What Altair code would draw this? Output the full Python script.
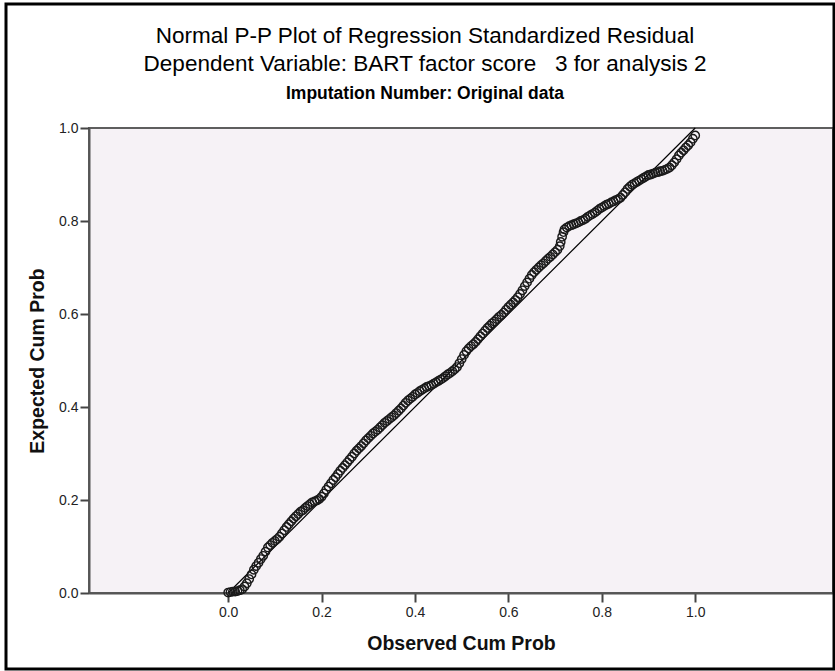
import altair as alt
import pandas as pd

# Observed cumulative probability (x) and expected cumulative probability (y)
observed = [
    0.000, 0.005, 0.010, 0.015, 0.020, 0.025, 0.030, 0.035, 0.040, 0.045,
    0.050, 0.055, 0.060, 0.065, 0.070, 0.075, 0.080, 0.085, 0.090, 0.095,
    0.100, 0.105, 0.110, 0.115, 0.120, 0.125, 0.130, 0.135, 0.140, 0.145,
    0.150, 0.155, 0.160, 0.165, 0.170, 0.175, 0.180, 0.185, 0.190, 0.195,
    0.200, 0.205, 0.210, 0.215, 0.220, 0.225, 0.230, 0.235, 0.240, 0.245,
    0.250, 0.255, 0.260, 0.265, 0.270, 0.275, 0.280, 0.285, 0.290, 0.295,
    0.300, 0.305, 0.310, 0.315, 0.320, 0.325, 0.330, 0.335, 0.340, 0.345,
    0.350, 0.355, 0.360, 0.365, 0.370, 0.375, 0.380, 0.385, 0.390, 0.395,
    0.400, 0.405, 0.410, 0.415, 0.420, 0.425, 0.430, 0.435, 0.440, 0.445,
    0.450, 0.455, 0.460, 0.465, 0.470, 0.475, 0.480, 0.485, 0.490, 0.495,
    0.500, 0.505, 0.510, 0.515, 0.520, 0.525, 0.530, 0.535, 0.540, 0.545,
    0.550, 0.555, 0.560, 0.565, 0.570, 0.575, 0.580, 0.585, 0.590, 0.595,
    0.600, 0.605, 0.610, 0.615, 0.620, 0.625, 0.630, 0.635, 0.640, 0.645,
    0.650, 0.655, 0.660, 0.665, 0.670, 0.675, 0.680, 0.685, 0.690, 0.695,
    0.700, 0.705, 0.710, 0.712, 0.715, 0.718, 0.720, 0.725, 0.730, 0.735,
    0.740, 0.745, 0.750, 0.755, 0.760, 0.765, 0.770, 0.775, 0.780, 0.785,
    0.790, 0.795, 0.800, 0.805, 0.810, 0.815, 0.820, 0.825, 0.830, 0.835,
    0.840, 0.845, 0.850, 0.855, 0.860, 0.865, 0.870, 0.875, 0.880, 0.885,
    0.890, 0.895, 0.900, 0.905, 0.910, 0.915, 0.920, 0.925, 0.930, 0.935,
    0.940, 0.945, 0.950, 0.955, 0.960, 0.965, 0.970, 0.975, 0.980, 0.985,
    0.990, 0.995, 1.000,
]
expected = [
    0.001, 0.002, 0.003, 0.003, 0.004, 0.006, 0.008, 0.014, 0.021, 0.030,
    0.040, 0.050, 0.058, 0.065, 0.073, 0.080, 0.089, 0.098, 0.103, 0.108,
    0.112, 0.116, 0.121, 0.128, 0.135, 0.142, 0.148, 0.154, 0.160, 0.165,
    0.170, 0.175, 0.178, 0.183, 0.187, 0.191, 0.195, 0.197, 0.199, 0.202,
    0.207, 0.214, 0.222, 0.229, 0.236, 0.243, 0.249, 0.256, 0.263, 0.269,
    0.275, 0.281, 0.287, 0.293, 0.300, 0.306, 0.311, 0.316, 0.322, 0.328,
    0.333, 0.338, 0.343, 0.347, 0.351, 0.356, 0.361, 0.366, 0.370, 0.374,
    0.378, 0.382, 0.387, 0.392, 0.397, 0.403, 0.409, 0.414, 0.418, 0.422,
    0.427, 0.430, 0.434, 0.437, 0.440, 0.443, 0.445, 0.447, 0.450, 0.453,
    0.456, 0.459, 0.462, 0.466, 0.470, 0.473, 0.477, 0.481, 0.486, 0.494,
    0.503, 0.512, 0.520, 0.526, 0.531, 0.535, 0.540, 0.546, 0.552, 0.558,
    0.564, 0.570, 0.575, 0.580, 0.584, 0.589, 0.594, 0.598, 0.603, 0.609,
    0.615, 0.620, 0.625, 0.630, 0.636, 0.643, 0.651, 0.660, 0.668, 0.676,
    0.684, 0.690, 0.695, 0.700, 0.705, 0.709, 0.714, 0.719, 0.723, 0.728,
    0.733, 0.738, 0.746, 0.755, 0.766, 0.776, 0.782, 0.786, 0.789, 0.791,
    0.793, 0.795, 0.797, 0.800, 0.802, 0.805, 0.809, 0.812, 0.815, 0.818,
    0.822, 0.826, 0.829, 0.832, 0.835, 0.837, 0.840, 0.842, 0.845, 0.847,
    0.850, 0.856, 0.862, 0.869, 0.874, 0.878, 0.881, 0.884, 0.887, 0.890,
    0.893, 0.896, 0.899, 0.900, 0.902, 0.904, 0.905, 0.907, 0.908, 0.910,
    0.912, 0.915, 0.920, 0.926, 0.933, 0.941, 0.947, 0.952, 0.958, 0.963,
    0.969, 0.977, 0.984,
]
ref_x = [0.0, 1.0]
ref_y = [0.0, 1.0]
x_ticks = [0.0, 0.2, 0.4, 0.6, 0.8, 1.0]
y_ticks = [0.0, 0.2, 0.4, 0.6, 0.8, 1.0]

title_1 = "Normal P-P Plot of Regression Standardized Residual"
title_2 = "Dependent Variable: BART factor score\u00a0\u00a0\u00a03 for analysis 2"
title_3 = "Imputation Number: Original data"

FONT = "Liberation Sans"
W, H = 744, 465
LEFT, TOP = 89, 128

pts = pd.DataFrame({"obs": observed, "exp": expected})
ref = pd.DataFrame({"obs": ref_x, "exp": ref_y})

xscale = alt.Scale(domain=[-0.298, 1.295], nice=False, zero=False)
yscale = alt.Scale(domain=[0, 1], nice=False, zero=False)

xaxis = alt.Axis(
    values=x_ticks, format=".1f", title="Observed Cum Prob", grid=False,
    domainColor="#555555", domainWidth=2, tickColor="#444444", tickWidth=2, tickSize=9,
    labelFont=FONT, labelFontSize=14, labelColor="#222222", labelPadding=3,
    titleFont=FONT, titleFontSize=19.5, titleFontWeight="bold", titleColor="#111111",
    titleX=(461 - LEFT), titleY=50, titleBaseline="middle", titleAlign="center",
)
yaxis = alt.Axis(
    values=y_ticks, format=".1f", title="Expected Cum Prob", grid=False,
    domainColor="#555555", domainWidth=2, tickColor="#444444", tickWidth=2, tickSize=9,
    labelFont=FONT, labelFontSize=14, labelColor="#222222", labelPadding=2,
    titleFont=FONT, titleFontSize=19.5, titleFontWeight="bold", titleColor="#111111",
    titleX=37 - LEFT, titleY=H / 2, titleBaseline="middle", titleAlign="center", titleAngle=270,
)

points = alt.Chart(pts).mark_point(
    shape="circle", filled=False, size=70, color="#1a1a1a", strokeWidth=1.4, opacity=1
).encode(
    x=alt.X("obs:Q", scale=xscale, axis=xaxis),
    y=alt.Y("exp:Q", scale=yscale, axis=yaxis),
)

line = alt.Chart(ref).mark_line(color="#000000", strokeWidth=1.2).encode(
    x=alt.X("obs:Q", scale=xscale),
    y=alt.Y("exp:Q", scale=yscale),
)

one = alt.Data(values=[{}])
frame = alt.Chart(one).mark_rect(
    fill=None, stroke="#000000", strokeWidth=3
).encode(
    x=alt.value(6 - LEFT), x2=alt.value(834 - LEFT),
    y=alt.value(4 - TOP), y2=alt.value(669 - TOP),
)

TX = 425 - LEFT
t1 = alt.Chart(one).mark_text(
    text=title_1, font=FONT, fontSize=22.5, color="#000000", align="center", baseline="middle"
).encode(x=alt.value(TX), y=alt.value(36 - TOP))
t2 = alt.Chart(one).mark_text(
    text=title_2, font=FONT, fontSize=22.5, color="#000000", align="center", baseline="middle"
).encode(x=alt.value(TX), y=alt.value(64 - TOP))
t3 = alt.Chart(one).mark_text(
    text=title_3, font=FONT, fontSize=17.5, fontWeight="bold", color="#000000",
    align="center", baseline="middle"
).encode(x=alt.value(TX), y=alt.value(94 - TOP))

chart = alt.layer(line, points, t1, t2, t3, frame).properties(
    width=W, height=H,
    autosize=alt.AutoSizeParams(type="none"),
    padding={"left": LEFT, "top": TOP, "right": 835 - LEFT - W, "bottom": 671 - TOP - H},
    background="#ffffff",
).configure_view(
    fill="#F6F2F6", stroke="#5e5e5e", strokeWidth=2
)

chart.save("out.html", embed_options={"renderer": "svg", "actions": False})
